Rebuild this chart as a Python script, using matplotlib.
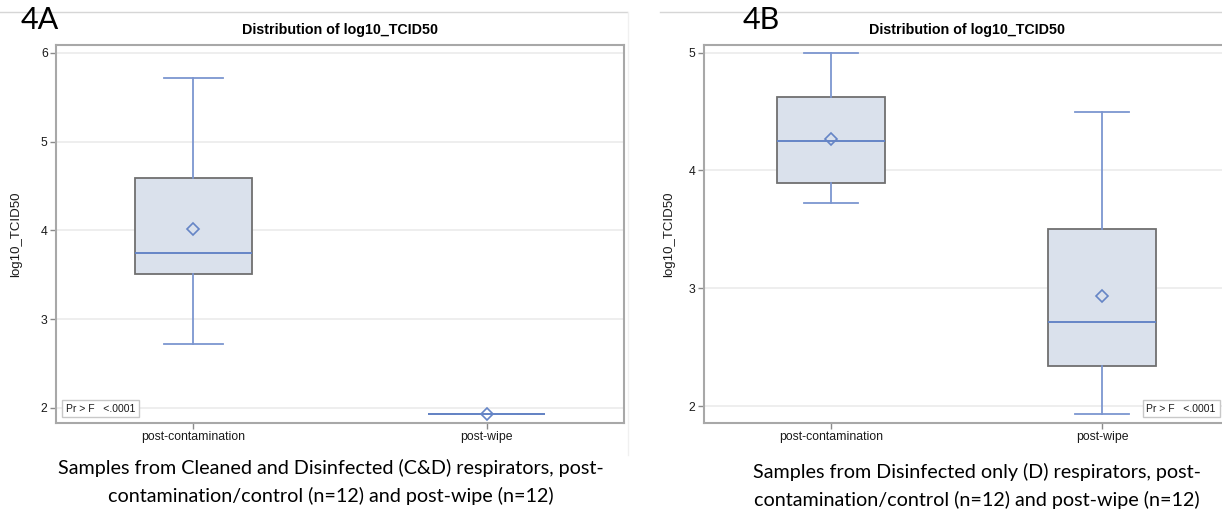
import matplotlib
matplotlib.use("Agg")
import matplotlib.pyplot as plt
from matplotlib.lines import Line2D

# ---- data ----
categories = ["post-contamination", "post-wipe"]

# Panel 4A (C&D respirators)
a_whislo = [2.72, 1.93]
a_q1     = [3.51, 1.93]
a_med    = [3.75, 1.93]
a_q3     = [4.59, 1.93]
a_whishi = [5.72, 1.93]
a_mean   = [4.02, 1.93]

# Panel 4B (Disinfected only)
b_whislo = [3.72, 1.93]
b_q1     = [3.89, 2.34]
b_med    = [4.25, 2.71]
b_q3     = [4.62, 3.50]
b_whishi = [5.00, 4.50]
b_mean   = [4.27, 2.93]

a_yticks = [2, 3, 4, 5, 6]
b_yticks = [2, 3, 4, 5]

panel_labels = ["4A", "4B"]
title = "Distribution of log10_TCID50"
ylabel = "log10_TCID50"
pvalue_text = "Pr > F   <.0001"
captions = [
    "Samples from Cleaned and Disinfected (C&D) respirators, post-\ncontamination/control (n=12) and post-wipe (n=12)",
    "Samples from Disinfected only (D) respirators, post-\ncontamination/control (n=12) and post-wipe (n=12)",
]

# ---- style ----
FILL = "#DAE1EC"
EDGE = "#707070"
LINE = "#7C96D0"
MED = "#6585C6"
GRID = "#EBEBEB"
FRAME = "#A8A8A8"
SAS_FONT = "Liberation Sans"
CAP_FONT = "Lato"

W, H = 1222, 512
fig = plt.figure(figsize=(W / 100, H / 100), dpi=100)


def px_axes(l, t, r, b):
    return fig.add_axes([l / W, (H - b) / H, (r - l) / W, (b - t) / H])


def make_stats(whislo, q1, med, q3, whishi, mean):
    stats = []
    for i in range(len(categories)):
        stats.append(dict(whislo=whislo[i], q1=q1[i], med=med[i], q3=q3[i],
                          whishi=whishi[i], mean=mean[i], fliers=[],
                          label=categories[i]))
    return stats


def draw_panel(ax, stats, ylim, yticks, pbox_x, pbox_ha):
    ax.bxp(stats, positions=[1, 2], widths=0.4, patch_artist=True,
           showmeans=True, showfliers=False,
           boxprops=dict(facecolor=FILL, edgecolor=EDGE, linewidth=1.3),
           whiskerprops=dict(color=LINE, linewidth=1.3),
           capprops=dict(color=LINE, linewidth=1.3),
           medianprops=dict(color=MED, linewidth=1.4),
           meanprops=dict(marker="D", markerfacecolor="none",
                          markeredgecolor=MED, markersize=6,
                          markeredgewidth=1.2),
           capwidths=0.2)
    ax.set_xlim(0.531, 2.469)
    ax.set_ylim(*ylim)
    ax.set_yticks(yticks)
    ax.set_yticklabels([str(t) for t in yticks])
    ax.set_xticks([1, 2])
    ax.set_xticklabels(categories)
    ax.yaxis.grid(True, color=GRID, linewidth=1.2)
    ax.set_axisbelow(True)
    for s in ax.spines.values():
        s.set_color(FRAME)
        s.set_linewidth(1.5)
    ax.tick_params(axis="both", colors="#8a8a8a", length=4, width=1,
                   labelcolor="#1a1a1a", labelsize=8.8, pad=2)
    for lab in ax.get_xticklabels() + ax.get_yticklabels():
        lab.set_family(SAS_FONT)
    ax.set_ylabel(ylabel, fontsize=9.5, family=SAS_FONT, color="#1a1a1a")
    ax.text(pbox_x, 0.038, pvalue_text, transform=ax.transAxes,
            fontsize=7.5, family=SAS_FONT, color="#1a1a1a", ha=pbox_ha,
            va="center",
            bbox=dict(boxstyle="square,pad=0.35", facecolor="white",
                      edgecolor="#C8C8C8", linewidth=1))


# Panel A
axA = px_axes(56, 45, 624, 423)
draw_panel(axA, make_stats(a_whislo, a_q1, a_med, a_q3, a_whishi, a_mean),
           (1.83, 6.09), a_yticks, 0.017, "left")
axA.yaxis.set_label_coords(-0.06, 0.5)

# Panel B
axB = px_axes(704, 45, 1229, 423)
draw_panel(axB, make_stats(b_whislo, b_q1, b_med, b_q3, b_whishi, b_mean),
           (1.856, 5.065), b_yticks, 0.975, "right")
axB.yaxis.set_label_coords(-0.055, 0.5)

# Titles
fig.text(340 / W, 1 - 30 / H, title, ha="center", va="center",
         fontsize=10.3, fontweight="bold", family=SAS_FONT)
fig.text(967 / W, 1 - 30 / H, title, ha="center", va="center",
         fontsize=10.3, fontweight="bold", family=SAS_FONT)

# Panel labels
fig.text(21 / W, 1 - 20 / H, panel_labels[0], ha="left", va="center",
         fontsize=22, family=CAP_FONT)
fig.text(743 / W, 1 - 20 / H, panel_labels[1], ha="left", va="center",
         fontsize=22, family=CAP_FONT)

# Thin frame lines at top of each screenshot
fig.add_artist(Line2D([0, 627 / W], [1 - 11.5 / H] * 2, color="#D6D6D6",
                      linewidth=1, transform=fig.transFigure))
fig.add_artist(Line2D([660 / W, 1], [1 - 11.5 / H] * 2, color="#D6D6D6",
                      linewidth=1, transform=fig.transFigure))
fig.add_artist(Line2D([628 / W] * 2, [1 - 12 / H, 1 - 455 / H],
                      color="#F0F0F0", linewidth=1,
                      transform=fig.transFigure))

# Captions
fig.text(331 / W, 1 - 482 / H, captions[0], ha="center", va="center",
         fontsize=14.2, family=CAP_FONT, linespacing=1.6)
fig.text(977 / W, 1 - 486 / H, captions[1], ha="center", va="center",
         fontsize=14.2, family=CAP_FONT, linespacing=1.6)

fig.savefig("out.png", dpi=100)
